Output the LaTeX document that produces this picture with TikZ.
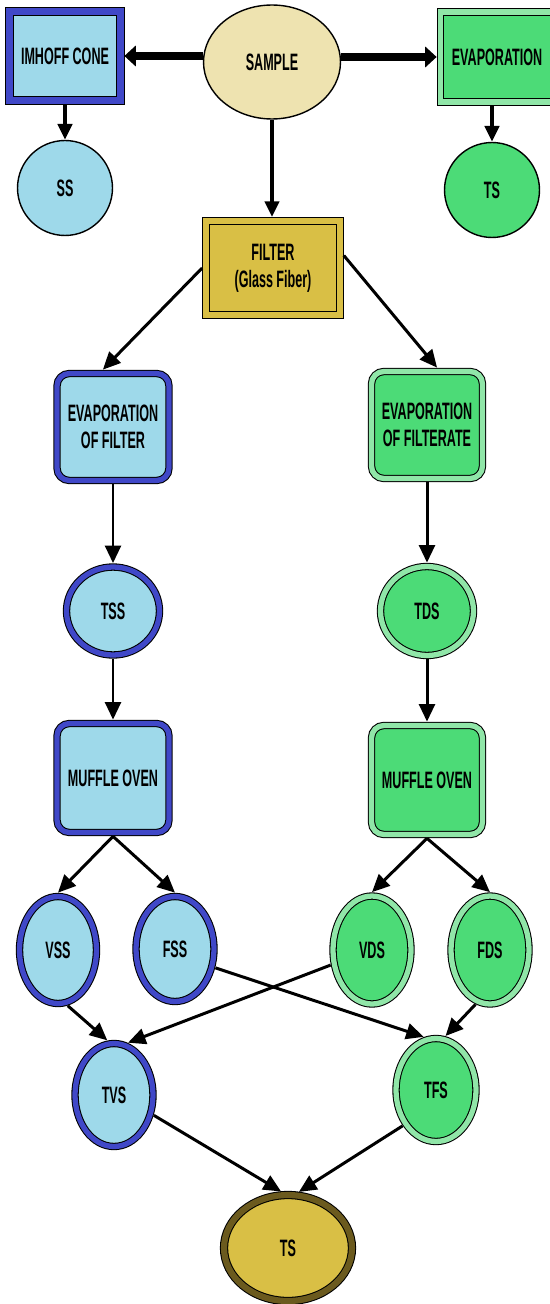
\documentclass[tikz,border=0pt]{standalone}
\usepackage{fontspec}
\newfontfamily\flowfont{Liberation Sans}[FakeStretch=0.53]
\usetikzlibrary{arrows.meta,shapes.geometric}
\definecolor{flowSky}{HTML}{9ED9EA}
\definecolor{flowBlue}{HTML}{4048C8}
\definecolor{flowGreen}{HTML}{4CDB77}
\definecolor{flowMint}{HTML}{90E6A8}
\definecolor{flowGold}{HTML}{D9BF45}
\definecolor{flowBrown}{HTML}{6B5A1E}
\definecolor{flowSand}{HTML}{EEE3B0}

\begin{document}
\begin{tikzpicture}[
  x=0.02cm, y=-0.02cm,
  font=\flowfont\bfseries\fontsize{13.5}{15.5}\selectfont,
  banded/.style={draw=black, line width=0.6pt, double distance=3pt, outer sep=2.2pt, align=center, inner sep=0pt},
  bluebox/.style={banded, rectangle, double=flowBlue, fill=flowSky},
  greenbox/.style={banded, rectangle, double=flowMint, fill=flowGreen},
  goldbox/.style={banded, rectangle, double=flowGold, fill=flowGold},
  blueproc/.style={bluebox, rounded corners=7pt, minimum width=2.24cm, minimum height=2.14cm},
  greenproc/.style={greenbox, rounded corners=7pt, minimum width=2.22cm, minimum height=2.14cm},
  blueoval/.style={banded, ellipse, double=flowBlue, fill=flowSky},
  greenoval/.style={banded, ellipse, double=flowMint, fill=flowGreen},
  plainoval/.style={ellipse, draw=black, line width=0.8pt, inner sep=0pt},
  flow/.style={-{Triangle[length=10pt,width=9pt]}, line width=1.7pt},
  sideflow/.style={-{Triangle[length=9pt,width=8pt]}, line width=2.6pt},
  bigflow/.style={-{Triangle[length=6.5pt,width=11.5pt]}, line width=5pt}
]
\useasboundingbox (0,0) rectangle (550,1304);

\node[plainoval, fill=flowSand, minimum width=2.74cm, minimum height=2.28cm] (sample) at (272,62) {SAMPLE};
\node[bluebox, double distance=4pt, minimum width=2.22cm, minimum height=1.78cm] (imhoff) at (65,56) {IMHOFF CONE};
\node[greenbox, minimum width=2.26cm, minimum height=1.8cm] (evap) at (497,57) {EVAPORATION};
\node[plainoval, fill=flowSky, minimum size=1.9cm] (ss) at (65,188) {SS};
\node[plainoval, fill=flowGreen, minimum size=1.9cm] (tsevap) at (492,190) {TS};
\node[goldbox, minimum width=2.68cm, minimum height=1.88cm] (filter) at (273,268) {FILTER\\(Glass Fiber)};

\node[blueproc] (evapfilter) at (113,427) {EVAPORATION\\OF FILTER};
\node[greenproc] (evapfiltrate) at (427,425) {EVAPORATION\\OF FILTERATE};
\node[blueoval, minimum width=1.86cm, minimum height=1.76cm] (tss) at (113,611) {TSS};
\node[greenoval, minimum width=1.86cm, minimum height=1.78cm] (tds) at (427,611) {TDS};
\node[blueproc, minimum height=2.18cm] (ovenL) at (113,778) {MUFFLE OVEN};
\node[greenproc, minimum height=2.18cm] (ovenR) at (427,780) {MUFFLE OVEN};

\node[blueoval, minimum width=1.54cm, minimum height=2.14cm] (vss) at (58,950) {VSS};
\node[blueoval, minimum width=1.56cm, minimum height=2.1cm] (fss) at (175,949) {FSS};
\node[greenoval, minimum width=1.56cm, minimum height=2.16cm] (vds) at (372,950) {VDS};
\node[greenoval, minimum width=1.56cm, minimum height=2.16cm] (fds) at (490,950) {FDS};
\node[blueoval, minimum width=1.56cm, minimum height=2.06cm] (tvs) at (114,1095) {TVS};
\node[greenoval, minimum width=1.6cm, minimum height=2.06cm] (tfs) at (436,1090) {TFS};
\node[banded, ellipse, double=flowBrown, double distance=3.5pt, fill=flowGold, minimum width=2.56cm, minimum height=2.12cm] (tsfinal) at (288,1248) {TS};

\draw[bigflow] (sample.west |- imhoff) -- (imhoff.east);
\draw[bigflow] (sample.east |- evap) -- (evap.west);
\draw[sideflow] (sample.south) -- (sample.south |- filter.north);
\draw[sideflow] (imhoff.south) -- (ss.north);
\draw[sideflow] (evap.south -| tsevap) -- (tsevap.north);

\draw[flow] (filter.west) -- (evapfilter.100);
\draw[flow] (filter.10) -- (evapfiltrate.80);
\foreach \a/\b in {evapfilter/tss, tss/ovenL, evapfiltrate/tds, tds/ovenR, ovenL/vss, ovenL/fss, ovenR/vds, ovenR/fds}
  \draw[flow] (\a.south) -- (\b.north);

\draw[flow] (vss.-80) -- (tvs.97);
\draw[flow] (vds.200) -- (tvs.75);
\draw[flow] (fss.-25) -- (tfs.103);
\draw[flow] (fds.-105) -- (tfs.80);
\draw[flow] (tvs.-27) -- (tsfinal.97);
\draw[flow] (tfs.-133) -- (tsfinal.79);
\end{tikzpicture}
\end{document}
